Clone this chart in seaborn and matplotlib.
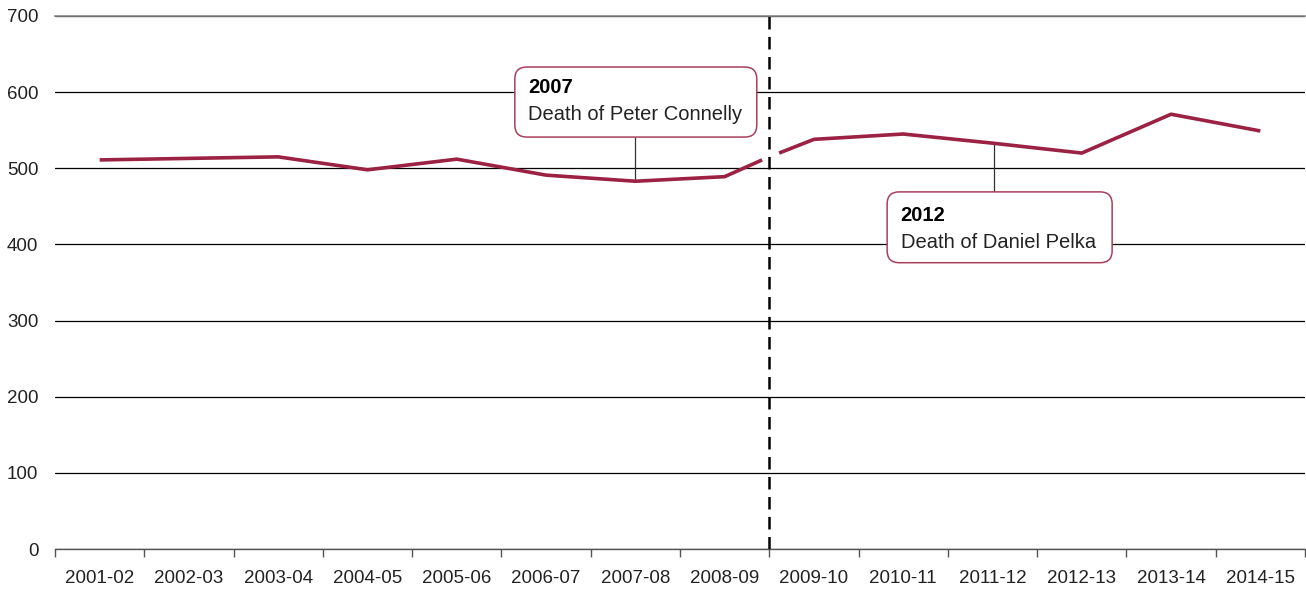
import matplotlib
matplotlib.use("Agg")
import matplotlib.pyplot as plt
from matplotlib.patches import FancyBboxPatch
import numpy as np
import pandas as pd
import seaborn as sns

years = ["2001-02", "2002-03", "2003-04", "2004-05", "2005-06", "2006-07", "2007-08",
         "2008-09", "2009-10", "2010-11", "2011-12", "2012-13", "2013-14", "2014-15"]
values = [511, 513, 515, 498, 512, 491, 483, 489, 538, 545, 533, 520, 571, 549]
# the series breaks at the dashed line (change of definition)
break_pos = [7.42, 7.61]
break_vals = [511, 520]
y_ticks = [0, 100, 200, 300, 400, 500, 600, 700]

events = [("2007", "Death of Peter Connelly"), ("2012", "Death of Daniel Pelka")]

sns.set_theme(style="white")
plt.rcParams["font.family"] = ["Liberation Sans", "DejaVu Sans"]

red = "#9b2242"
txt = "#222222"

n = len(years)
seg1 = pd.DataFrame({"x": list(range(8)) + [break_pos[0]], "y": values[:8] + [break_vals[0]]})
seg2 = pd.DataFrame({"x": [break_pos[1]] + list(range(8, n)), "y": [break_vals[1]] + values[8:]})

fig = plt.figure(figsize=(13.06, 5.93), dpi=100)
ax = fig.add_axes([55 / 1306, 1 - 549 / 593, 1250 / 1306, 533 / 593])

for seg in (seg1, seg2):
    sns.lineplot(data=seg, x="x", y="y", ax=ax, color=red, lw=2.6, sort=False,
                 solid_capstyle="butt", zorder=4)

ax.set_xlim(-0.5, n - 0.5)
ax.set_ylim(0, 700)
ax.set_yticks(y_ticks)
ax.set_xticks(range(n))
ax.set_xticklabels(years)
ax.set_xticks(np.arange(-0.5, n, 1), minor=True)
ax.tick_params(axis="y", length=0, pad=12, labelsize=13.5, labelcolor=txt)
ax.tick_params(axis="x", which="major", bottom=True, length=0, pad=15, labelsize=13.5, labelcolor=txt)
ax.tick_params(axis="x", which="minor", bottom=True, length=6, width=1, color="#555555", direction="out")
ax.set_xlabel("")
ax.set_ylabel("")

ax.yaxis.grid(True, color="black", lw=0.9)
ax.set_axisbelow(True)
for s in ["left", "right"]:
    ax.spines[s].set_visible(False)
ax.spines["top"].set_color("#888888")
ax.spines["top"].set_linewidth(1.2)
ax.spines["bottom"].set_color("#555555")
ax.spines["bottom"].set_linewidth(1)

# dashed break line
ax.axvline(7.5, color="black", lw=1.8, dashes=(5, 3), zorder=5)

# callout boxes
px_x = 1 / 89.3
px_y = 700 / 533
aspect = px_y / px_x


def callout(x0, x1, y0, y1, lead_x, lead_y, lead_end, head, body, tx, ty_head, ty_body):
    ax.plot([lead_x, lead_x], [lead_y, lead_end], color="#333333", lw=0.9, zorder=3)
    box = FancyBboxPatch((x0, y0), x1 - x0, y1 - y0,
                         boxstyle=f"round,pad=0,rounding_size={12 * px_x}",
                         mutation_aspect=aspect, fc="white", ec="#a8405c", lw=1.1, zorder=6)
    ax.add_patch(box)
    ax.text(tx, ty_head, head, fontsize=14.5, fontweight="bold", color="black",
            va="center", ha="left", zorder=7)
    ax.text(tx, ty_body, body, fontsize=14.5, color=txt, va="center", ha="left", zorder=7)


callout(4.65, 7.36, 541, 633, 6.0, 541, 483, events[0][0], events[0][1], 4.80, 606, 570)
callout(8.82, 11.34, 376, 469, 10.02, 469, 533, events[1][0], events[1][1], 8.97, 438, 402)

fig.savefig("out.png", dpi=100)
